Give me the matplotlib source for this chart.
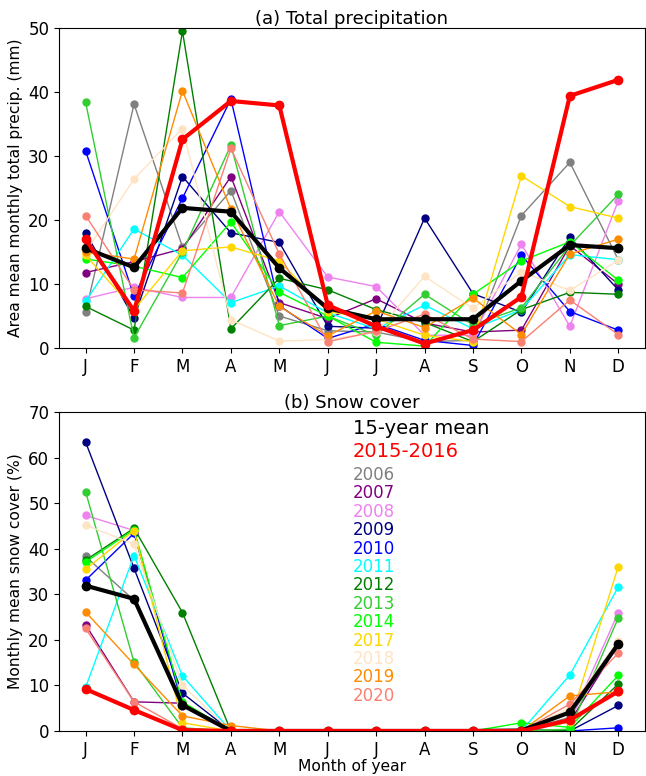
import numpy as np
import matplotlib
matplotlib.use('Agg')
import matplotlib.pyplot as plt

months = np.arange(1, 13)
month_labels = ['J', 'F', 'M', 'A', 'M', 'J', 'J', 'A', 'S', 'O', 'N', 'D']

years = ['2006', '2007', '2008', '2009', '2010', '2011', '2012',
         '2013', '2014', '2017', '2018', '2019', '2020']
colors = ['gray', 'purple', 'violet', 'navy', 'blue', 'cyan', 'green',
          'limegreen', 'lime', 'gold', 'bisque', 'darkorange', 'salmon']

# (a) total precipitation (mm), one row per year
precip = [
    [5.6, 38.1, 15.8, 24.6, 5.0, 2.7, 2.5, 1.0, 1.2, 20.7, 29.0, 13.8],
    [11.8, 13.5, 15.5, 26.8, 7.1, 4.6, 7.7, 3.9, 2.5, 2.8, 16.0, 10.0],
    [7.7, 9.5, 7.9, 7.9, 21.3, 11.1, 9.6, 2.0, 2.0, 16.2, 3.4, 23.0],
    [18.0, 4.7, 26.8, 18.0, 16.5, 3.4, 3.1, 20.3, 8.5, 5.6, 17.3, 9.1],
    [30.8, 8.1, 23.4, 38.9, 6.6, 1.5, 3.8, 1.2, 0.4, 14.5, 5.7, 2.8],
    [7.3, 18.6, 14.5, 7.1, 9.7, 5.5, 3.0, 6.7, 3.0, 6.0, 14.6, 13.8],
    [6.5, 2.8, 49.5, 3.0, 10.9, 9.1, 6.0, 4.0, 1.0, 6.0, 8.7, 8.4],
    [38.4, 1.6, 15.0, 31.7, 3.5, 5.0, 2.0, 8.4, 3.6, 6.3, 16.0, 24.0],
    [13.9, 12.8, 11.0, 19.7, 8.7, 5.0, 0.9, 0.3, 8.4, 13.6, 16.6, 10.6],
    [14.5, 6.0, 15.2, 15.8, 13.6, 5.7, 4.5, 2.0, 1.0, 26.9, 22.1, 20.3],
    [15.0, 26.4, 34.3, 4.4, 1.1, 1.3, 2.5, 11.2, 6.2, 11.9, 9.0, 13.7],
    [15.0, 13.9, 40.2, 21.7, 6.5, 1.9, 5.8, 3.2, 7.8, 2.1, 14.7, 17.0],
    [20.7, 9.1, 8.6, 31.2, 14.7, 1.0, 2.6, 5.3, 1.4, 1.0, 7.5, 2.1],
]
precip_1516 = [17.0, 5.8, 32.6, 38.6, 37.9, 6.7, 3.4, 0.7, 2.8, 8.0, 39.4, 41.9]
precip_mean = [15.6, 12.6, 21.9, 21.3, 12.5, 6.2, 4.5, 4.5, 4.5, 10.5, 16.1, 15.6]

# (b) snow cover (%)
snow = [
    [38.3, 28.7, 5.4, 0, 0, 0, 0, 0, 0, 0, 3.0, 19.6],
    [23.3, 6.4, 6.1, 0, 0, 0, 0, 0, 0, 0, 2.0, 19.0],
    [47.3, 44.0, 5.5, 0, 0, 0, 0, 0, 0, 0, 2.0, 26.0],
    [63.4, 35.7, 8.3, 0, 0, 0, 0, 0, 0, 0.3, 0, 5.6],
    [33.1, 43.4, 5.8, 0, 0, 0, 0, 0, 0, 0, 0, 0.7],
    [9.6, 38.5, 12.1, 0, 0, 0, 0, 0, 0, 0, 12.3, 31.6],
    [37.5, 44.5, 26.0, 0, 0, 0, 0, 0, 0, 0, 0.2, 10.3],
    [52.5, 15.1, 0.7, 0, 0, 0, 0, 0, 0, 0, 0.4, 24.8],
    [37.1, 44.2, 6.4, 0, 0, 0, 0, 0, 0, 1.8, 0.8, 12.2],
    [35.5, 44.0, 1.8, 0, 0, 0, 0, 0, 0, 0, 2.0, 36.1],
    [45.2, 41.0, 10.0, 0, 0, 0, 0, 0, 0, 0, 5.0, 19.8],
    [26.1, 14.6, 3.3, 1.2, 0, 0, 0, 0, 0, 0, 7.7, 8.6],
    [22.5, 6.4, 0.5, 0, 0, 0, 0, 0, 0, 0, 5.9, 17.1],
]
snow_1516 = [9.2, 4.6, 0.2, 0, 0, 0, 0, 0, 0, 0, 2.4, 8.7]
snow_mean = [31.9, 29.0, 5.7, 0, 0, 0, 0, 0, 0, 0.1, 4.1, 19.1]

fig = plt.figure(figsize=(6.46, 7.76), dpi=100)
ax1 = fig.add_axes([0.0913, 0.5515, 0.907, 0.4124])
ax2 = fig.add_axes([0.0913, 0.058, 0.907, 0.411])


def draw_panel(ax, yearly, val_1516, val_mean):
    for vals, c in zip(yearly, colors):
        ax.plot(months, vals, '-o', color=c, lw=1, ms=5)
    ax.plot(months, val_mean, '-o', color='black', lw=3, ms=6)
    ax.plot(months, val_1516, '-o', color='red', lw=3, ms=6)
    ax.set_xticks(months)
    ax.set_xticklabels(month_labels)
    ax.tick_params(labelsize=12)


draw_panel(ax1, precip, precip_1516, precip_mean)
ax1.set_ylim(0, 50)
ax1.set_title('(a) Total precipitation', fontsize=13, pad=3)
ax1.set_ylabel('Area mean monthly total precip. (mm)', fontsize=11.2)

draw_panel(ax2, snow, snow_1516, snow_mean)
ax2.set_ylim(0, 70)
ax2.set_title('(b) Snow cover', fontsize=13, pad=3)
ax2.set_ylabel('Monthly mean snow cover (%)', fontsize=11.2)
ax2.set_xlabel('Month of year', fontsize=11.2, labelpad=0)

# coloured text legend
ax2.text(0.502, 0.950, '15-year mean', color='black', fontsize=14,
         transform=ax2.transAxes, va='center')
ax2.text(0.502, 0.875, '2015-2016', color='red', fontsize=14,
         transform=ax2.transAxes, va='center')
for i, (yr, c) in enumerate(zip(years, colors)):
    ax2.text(0.502, 0.8025 - i * 0.0577, yr, color=c, fontsize=12,
             transform=ax2.transAxes, va='center')

plt.savefig('out.png', dpi=100)
